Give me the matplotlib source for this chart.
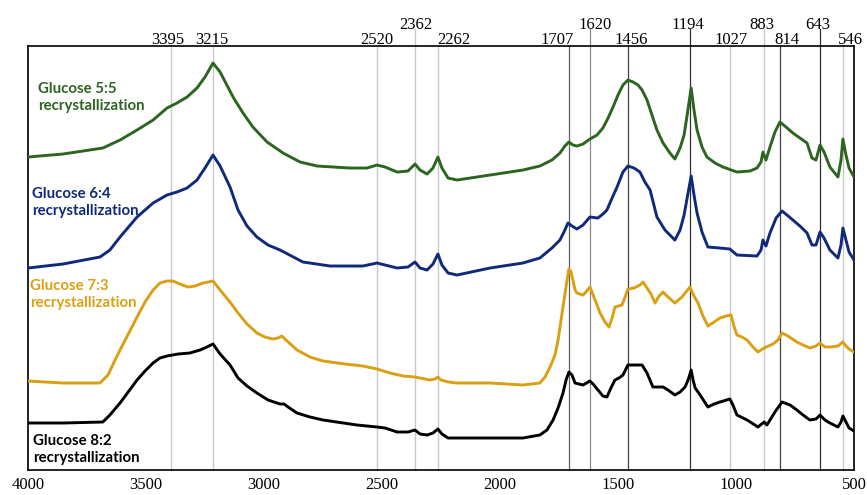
import matplotlib
matplotlib.use("Agg")
import matplotlib.pyplot as plt

# wavenumbers (cm-1) and offset intensities (arbitrary units)
wn_55 = [4000, 3852, 3683, 3610, 3538, 3470, 3411, 3369, 3326, 3284, 3250, 3216, 3186, 3131,
         3089, 3047, 2987, 2919, 2847, 2775, 2636, 2564, 2521, 2487, 2436, 2390, 2360, 2339,
         2309, 2284, 2263, 2246, 2220, 2182, 2042, 1903, 1831, 1780, 1746, 1725, 1708, 1691,
         1674, 1648, 1619, 1589, 1564, 1542, 1521, 1500, 1479, 1458, 1436, 1415, 1398, 1377,
         1356, 1335, 1309, 1280, 1259, 1237, 1220, 1207, 1190, 1178, 1165, 1144, 1123, 1089,
         1055, 996, 941, 911, 894, 886, 873, 856, 835, 814, 788, 759, 729, 699, 678, 661,
         644, 627, 602, 568, 555, 547, 534, 521, 500]
i_55 = [313, 316, 322, 330, 340, 350, 362, 367, 373, 382, 393, 407, 398, 373,
        357, 343, 328, 317, 308, 304, 302, 302, 305, 303, 298, 299, 306, 300,
        296, 302, 313, 302, 292, 290, 295, 300, 304, 310, 317, 324, 328, 325,
        324, 326, 331, 335, 342, 352, 363, 375, 385, 390, 388, 385, 380, 370,
        355, 340, 327, 317, 311, 322, 335, 355, 382, 360, 340, 323, 313, 307,
        303, 298, 299, 302, 308, 318, 310, 323, 338, 348, 343, 337, 332, 327, 312, 310,
        325, 318, 303, 293, 310, 331, 315, 302, 293]

wn_64 = [4000, 3852, 3695, 3653, 3610, 3538, 3470, 3411, 3369, 3326, 3284, 3250, 3216, 3186,
         3144, 3110, 3072, 3030, 2983, 2932, 2835, 2720, 2581, 2521, 2487, 2436, 2390, 2360,
         2339, 2309, 2284, 2263, 2246, 2220, 2182, 2042, 1903, 1831, 1780, 1746, 1725, 1712,
         1695, 1674, 1648, 1619, 1585, 1564, 1547, 1525, 1504, 1479, 1458, 1432, 1407, 1386,
         1364, 1335, 1301, 1259, 1237, 1220, 1207, 1190, 1178, 1165, 1144, 1119, 1068, 1026,
         996, 911, 894, 886, 873, 856, 830, 805, 784, 759, 729, 699, 678, 661, 644, 627,
         602, 568, 555, 547, 534, 521, 500]
i_64 = [202, 206, 213, 220, 233, 253, 267, 275, 278, 282, 290, 302, 315, 304,
        283, 260, 244, 233, 225, 220, 208, 204, 204, 207, 205, 202, 203, 208,
        202, 200, 206, 216, 205, 197, 195, 202, 207, 212, 222, 230, 240, 247,
        244, 241, 245, 253, 252, 256, 260, 272, 283, 298, 304, 302, 298, 288,
        280, 253, 240, 230, 240, 255, 272, 294, 275, 257, 238, 223, 222, 221,
        215, 214, 220, 230, 224, 237, 252, 259, 255, 250, 244, 237, 225, 225, 238, 232,
        220, 212, 225, 242, 230, 218, 210]

wn_73 = [4000, 3852, 3695, 3661, 3631, 3610, 3538, 3504, 3470, 3441, 3411, 3386, 3356, 3322,
         3292, 3258, 3216, 3186, 3144, 3110, 3072, 3030, 2996, 2962, 2941, 2924, 2907, 2860,
         2805, 2750, 2657, 2581, 2521, 2466, 2411, 2360, 2297, 2275, 2263, 2250, 2220, 2182,
         2042, 1903, 1831, 1809, 1788, 1767, 1754, 1733, 1716, 1708, 1699, 1691, 1682, 1674,
         1648, 1636, 1619, 1602, 1576, 1555, 1538, 1525, 1513, 1483, 1470, 1458, 1432, 1407,
         1394, 1377, 1360, 1343, 1326, 1309, 1288, 1259, 1229, 1195, 1178, 1161, 1140, 1119,
         1093, 1068, 1042, 1021, 1009, 996, 975, 953, 932, 907, 881, 843, 822, 805, 780, 742,
         716, 687, 661, 644, 623, 602, 568, 547, 534, 521, 500]
i_73 = [89, 87, 87, 95, 110, 120, 153, 168, 180, 187, 189, 189, 186, 183,
        184, 187, 189, 180, 168, 157, 146, 137, 133, 131, 132, 134, 130, 120,
        113, 109, 106, 104, 101, 97, 94, 93, 90, 91, 93, 90, 88, 87,
        87, 85, 87, 93, 103, 115, 130, 163, 190, 201, 198, 190, 180, 177,
        175, 178, 183, 173, 157, 148, 143, 152, 163, 165, 173, 181, 182, 185,
        188, 182, 176, 167, 174, 178, 173, 167, 173, 183, 174, 167, 154, 144,
        148, 152, 154, 155, 144, 135, 133, 130, 124, 118, 122, 126, 130, 137, 134, 128,
        125, 122, 124, 127, 123, 123, 124, 128, 124, 121, 118]

wn_82 = [4000, 3852, 3683, 3653, 3610, 3538, 3504, 3470, 3441, 3411, 3364, 3314, 3271, 3242,
         3216, 3186, 3144, 3110, 3072, 3030, 2983, 2932, 2915, 2898, 2860, 2805, 2750, 2606,
         2521, 2487, 2436, 2390, 2360, 2339, 2309, 2284, 2263, 2246, 2220, 2182, 2042, 1903,
         1831, 1801, 1775, 1754, 1733, 1720, 1708, 1695, 1682, 1648, 1619, 1602, 1585, 1564,
         1547, 1530, 1513, 1496, 1479, 1458, 1428, 1398, 1377, 1352, 1309, 1288, 1259, 1237,
         1216, 1203, 1190, 1182, 1173, 1152, 1119, 1093, 1068, 1026, 1013, 996, 953, 907,
         881, 869, 835, 805, 771, 742, 716, 687, 661, 644, 623, 602, 568, 555, 547, 534, 521, 500]
i_82 = [47, 47, 48, 55, 67, 90, 99, 107, 112, 114, 116, 117, 120, 123,
        126, 116, 105, 92, 84, 77, 70, 66, 66, 63, 57, 53, 50, 45,
        43, 42, 38, 38, 40, 36, 35, 37, 41, 36, 32, 32, 32, 32,
        35, 40, 50, 62, 77, 90, 98, 95, 87, 85, 89, 85, 80, 74,
        73, 82, 90, 92, 95, 105, 105, 105, 97, 83, 83, 80, 75, 78,
        83, 90, 100, 90, 82, 75, 63, 66, 68, 71, 65, 55, 50, 43,
        48, 45, 58, 68, 65, 60, 55, 50, 51, 55, 50, 47, 43, 48, 54, 48, 42, 39]

names = ["Glucose 5:5\nrecrystallization", "Glucose 6:4\nrecrystallization",
         "Glucose 7:3\nrecrystallization", "Glucose 8:2\nrecrystallization"]
colors = ["#2b6520", "#0f2a7a", "#d9a013", "#000000"]

# marked bands: light gray guide lines / dark guide lines
light_bands = [3395, 3215, 2520, 2362, 2262, 1027, 883, 546]
dark_bands = [1707, 1620, 1456, 1194, 814, 643]
upper_row = [2362, 1620, 1194, 883, 643]
band_color = {1707: "#606060", 1620: "#8a8a8a", 1456: "#404040",
              1194: "#303030", 814: "#404040", 643: "#303030"}
# horizontal nudges of the band labels (pixels)
nudge = {3395: -3, 3215: -1, 2520: 0, 2362: 1, 2262: 16, 1707: -12, 1620: 5,
         1456: 3, 1194: -2, 1027: 1, 883: -2, 814: 7, 643: -2, 546: 7}

fig = plt.figure(figsize=(8.67, 4.95), dpi=100)
ax = fig.add_axes([0.0323, 0.0505, 0.9527, 0.8565])

for b in light_bands + dark_bands:
    c = band_color.get(b, "#c8c8c8")
    lw = 0.9 if b in dark_bands else 1.0
    top = 1.04 if b in upper_row else 1.0
    ax.plot([b, b], [0, top], color=c, lw=lw, transform=ax.get_xaxis_transform(),
            clip_on=False, zorder=1)
    ypos = 1.04 if b in upper_row else 1.005
    ax.annotate(str(b), xy=(b, ypos), xycoords=("data", "axes fraction"),
                xytext=(nudge[b], 0), textcoords="offset pixels",
                ha="center", va="baseline", fontsize=12, family="Liberation Serif")

series = [(wn_55, i_55), (wn_64, i_64), (wn_73, i_73), (wn_82, i_82)]
for (x, y), c in zip(series, colors):
    ax.plot(x, y, color=c, lw=2.1, solid_joinstyle="round", solid_capstyle="round", zorder=3)

label_pos = [(3958, 388), (3983, 283), (3992, 191), (3979, 36)]
for name, c, (lx, ly) in zip(names, colors, label_pos):
    ax.text(lx, ly, name, color=c, fontsize=10.8, family="Lato", fontweight="bold",
            ha="left", va="top", linespacing=1.3, zorder=4)

ax.set_xlim(4000, 500)
ax.set_ylim(0, 424)
ax.set_xticks([4000, 3500, 3000, 2500, 2000, 1500, 1000, 500])
ax.set_yticks([])
ax.tick_params(axis="x", length=0, pad=5)
for lab in ax.get_xticklabels():
    lab.set_family("Liberation Serif")
    lab.set_fontsize(12)
for s in ax.spines.values():
    s.set_linewidth(1.2)
    s.set_color("black")

fig.savefig("out.png", dpi=100)
